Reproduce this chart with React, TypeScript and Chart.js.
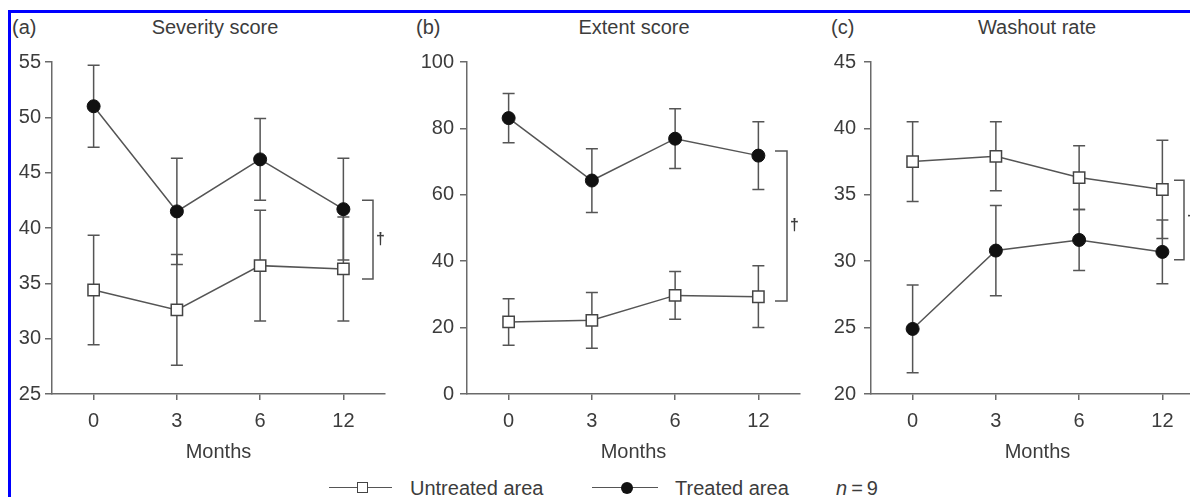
import React, { useEffect, useRef } from "react";
import { Chart, registerables } from "chart.js";

Chart.register(...registerables);

// ---- data ----
const months = ["0", "3", "6", "12"];

const severityTicks = [25, 30, 35, 40, 45, 50, 55];
const severityUntreated = [34.4, 32.6, 36.6, 36.3];
const severityUntreatedErr = [4.95, 5.0, 5.0, 4.7];
const severityTreated = [51.0, 41.5, 46.2, 41.7];
const severityTreatedErr = [3.7, 4.8, 3.7, 4.6];
const severityBracket = [42.5, 35.4];

const extentTicks = [0, 20, 40, 60, 80, 100];
const extentUntreated = [21.7, 22.2, 29.7, 29.3];
const extentUntreatedErr = [7.0, 8.4, 7.2, 9.3];
const extentTreated = [83.1, 64.3, 76.9, 71.8];
const extentTreatedErr = [7.4, 9.6, 9.0, 10.2];
const extentBracket = [73.2, 28.0];

const washoutTicks = [20, 25, 30, 35, 40, 45];
const washoutUntreated = [37.5, 37.9, 36.3, 35.4];
const washoutUntreatedErr = [3.0, 2.6, 2.4, 3.7];
const washoutTreated = [24.9, 30.8, 31.6, 30.7];
const washoutTreatedErr = [3.3, 3.4, 2.3, 2.4];
const washoutBracket = [36.1, 30.1];

// ---- styles ----
const FONT = "'Liberation Sans', Arial, Helvetica, sans-serif";
const TEXT = "#3c3c3c";
const LINE = "#555555";
const AXIS = "#6a6a6a";

type PanelDef = {
  label: string;
  title: string;
  ticks: number[];
  untreated: number[];
  untreatedErr: number[];
  treated: number[];
  treatedErr: number[];
  bracket: number[];
  left: number;
  width: number;
  yWidth: number;
  yPad: number;
  padRight: number;
  bx0: number;
  bx1: number;
  titleX: number;
  labelX: number;
};

const panels: PanelDef[] = [
  {
    label: "(a)", title: "Severity score", ticks: severityTicks,
    untreated: severityUntreated, untreatedErr: severityUntreatedErr,
    treated: severityTreated, treatedErr: severityTreatedErr, bracket: severityBracket,
    left: 10, width: 390, yWidth: 42, yPad: 4, padRight: 15, bx0: -23, bx1: -12, titleX: 215, labelX: 12,
  },
  {
    label: "(b)", title: "Extent score", ticks: extentTicks,
    untreated: extentUntreated, untreatedErr: extentUntreatedErr,
    treated: extentTreated, treatedErr: extentTreatedErr, bracket: extentBracket,
    left: 410, width: 400, yWidth: 57, yPad: 6, padRight: 10, bx0: -25, bx1: -13, titleX: 634, labelX: 416,
  },
  {
    label: "(c)", title: "Washout rate", ticks: washoutTicks,
    untreated: washoutUntreated, untreatedErr: washoutUntreatedErr,
    treated: washoutTreated, treatedErr: washoutTreatedErr, bracket: washoutBracket,
    left: 815, width: 400, yWidth: 56, yPad: 8, padRight: 11, bx0: -30, bx1: -20, titleX: 1037, labelX: 831,
  },
];

const CANVAS_TOP = 40;
const CANVAS_H = 430;
const AREA_TOP = 62;
const AREA_BOTTOM = 394;
const X_AXIS_H = 70;

const errorBarPlugin = {
  id: "errorBars",
  beforeDatasetsDraw(chart: any) {
    const ctx = chart.ctx;
    const yScale = chart.scales.y;
    ctx.save();
    ctx.strokeStyle = LINE;
    ctx.lineWidth = 1.5;
    chart.data.datasets.forEach((ds: any, di: number) => {
      const meta = chart.getDatasetMeta(di);
      const errs: number[] = ds.errors || [];
      meta.data.forEach((pt: any, i: number) => {
        const v = ds.data[i];
        const e = errs[i];
        if (v == null || e == null) return;
        const x = pt.x;
        const yt = yScale.getPixelForValue(v + e);
        const yb = yScale.getPixelForValue(v - e);
        const cap = 6;
        ctx.beginPath();
        ctx.moveTo(x, yt);
        ctx.lineTo(x, yb);
        ctx.moveTo(x - cap, yt);
        ctx.lineTo(x + cap, yt);
        ctx.moveTo(x - cap, yb);
        ctx.lineTo(x + cap, yb);
        ctx.stroke();
      });
    });
    ctx.restore();
  },
};

function makeBracketPlugin(p: PanelDef) {
  return {
    id: "bracket",
    afterDatasetsDraw(chart: any) {
      const ctx = chart.ctx;
      const yScale = chart.scales.y;
      const r = chart.chartArea.right;
      const x0 = r + p.bx0;
      const x1 = r + p.bx1;
      const yt = yScale.getPixelForValue(p.bracket[0]);
      const yb = yScale.getPixelForValue(p.bracket[1]);
      ctx.save();
      ctx.strokeStyle = LINE;
      ctx.lineWidth = 1.5;
      ctx.beginPath();
      ctx.moveTo(x0, yt);
      ctx.lineTo(x1, yt);
      ctx.lineTo(x1, yb);
      ctx.lineTo(x0, yb);
      ctx.stroke();
      ctx.fillStyle = TEXT;
      ctx.font = `bold 16px ${FONT}`;
      ctx.textAlign = "left";
      ctx.textBaseline = "middle";
      ctx.fillText("\u2020", x1 + 3, (yt + yb) / 2);
      ctx.restore();
    },
  };
}

function PanelChart({ p }: { p: PanelDef }) {
  const ref = useRef<HTMLCanvasElement | null>(null);
  useEffect(() => {
    if (!ref.current) return;
    const ticks = p.ticks;
    const chart = new Chart(ref.current, {
      type: "line",
      data: {
        labels: months,
        datasets: [
          {
            label: "Untreated area",
            data: p.untreated,
            errors: p.untreatedErr,
            borderColor: LINE,
            borderWidth: 1.5,
            pointStyle: "rect",
            pointRadius: 8,
            pointBackgroundColor: "#ffffff",
            pointBorderColor: "#444444",
            pointBorderWidth: 1.5,
            tension: 0,
          } as any,
          {
            label: "Treated area",
            data: p.treated,
            errors: p.treatedErr,
            borderColor: LINE,
            borderWidth: 1.5,
            pointStyle: "circle",
            pointRadius: 6.5,
            pointBackgroundColor: "#111111",
            pointBorderColor: "#111111",
            pointBorderWidth: 1,
            tension: 0,
          } as any,
        ],
      },
      options: {
        responsive: false,
        animation: false,
        events: [],
        layout: {
          padding: {
            top: AREA_TOP - CANVAS_TOP,
            right: p.padRight,
            bottom: CANVAS_TOP + CANVAS_H - (AREA_BOTTOM + X_AXIS_H),
            left: 0,
          },
        },
        plugins: {
          legend: { display: false },
          tooltip: { enabled: false },
          title: { display: false },
        },
        scales: {
          x: {
            type: "category",
            offset: true,
            grid: { display: true, drawOnChartArea: false, drawTicks: true, tickLength: 6, color: AXIS, lineWidth: 1.5 },
            border: { display: true, color: AXIS, width: 1.5 },
            ticks: { color: TEXT, font: { family: FONT, size: 20 }, padding: 9, maxRotation: 0, autoSkip: false },
            title: { display: true, text: "Months", color: TEXT, font: { family: FONT, size: 20 }, padding: { top: 0, bottom: 0 } },
            afterFit: (s: any) => { s.height = X_AXIS_H; },
          },
          y: {
            type: "linear",
            min: ticks[0],
            max: ticks[ticks.length - 1],
            afterBuildTicks: (s: any) => { s.ticks = ticks.map((v) => ({ value: v })); },
            grid: { display: true, drawOnChartArea: false, drawTicks: true, tickLength: 7, color: AXIS, lineWidth: 1.5 },
            border: { display: true, color: AXIS, width: 1.5 },
            ticks: { color: TEXT, font: { family: FONT, size: 20 }, padding: p.yPad },
            afterFit: (s: any) => { s.width = p.yWidth; },
          },
        },
      } as any,
      plugins: [errorBarPlugin, makeBracketPlugin(p)],
    });
    return () => chart.destroy();
  }, [p]);
  return (
    <canvas
      ref={ref}
      width={p.width}
      height={CANVAS_H}
      style={{ position: "absolute", left: p.left, top: CANVAS_TOP, width: p.width, height: CANVAS_H }}
    />
  );
}

const textStyle: React.CSSProperties = {
  position: "absolute",
  fontFamily: FONT,
  fontSize: 20,
  color: TEXT,
  lineHeight: "24px",
  whiteSpace: "nowrap",
};

export default function App() {
  return (
    <div style={{ position: "absolute", left: 0, top: 0, width: 1190, height: 497, overflow: "hidden", background: "#ffffff" }}>
      <div
        style={{
          position: "absolute", left: 8, top: 10, width: 1300, height: 600,
          borderTop: "3px solid #0000ff", borderLeft: "3px solid #0000ff",
        }}
      />
      {panels.map((p) => (
        <React.Fragment key={p.label}>
          <div style={{ ...textStyle, left: p.labelX, top: 15 }}>{p.label}</div>
          <div style={{ ...textStyle, left: p.titleX, top: 15, transform: "translateX(-50%)" }}>{p.title}</div>
          <PanelChart p={p} />
        </React.Fragment>
      ))}
      {/* legend */}
      <div style={{ position: "absolute", left: 329, top: 487, width: 63, borderTop: "1.5px solid #555" }} />
      <div style={{ position: "absolute", left: 357, top: 482, width: 9, height: 9, border: "1.5px solid #444", background: "#fff" }} />
      <div style={{ ...textStyle, left: 410, top: 476 }}>Untreated area</div>
      <div style={{ position: "absolute", left: 592, top: 487, width: 66, borderTop: "1.5px solid #555" }} />
      <div style={{ position: "absolute", left: 621, top: 482, width: 12, height: 12, borderRadius: "50%", background: "#111" }} />
      <div style={{ ...textStyle, left: 675, top: 476 }}>Treated area</div>
      <div style={{ ...textStyle, left: 836, top: 476 }}><i>n</i>{"\u2009=\u20099"}</div>
    </div>
  );
}
